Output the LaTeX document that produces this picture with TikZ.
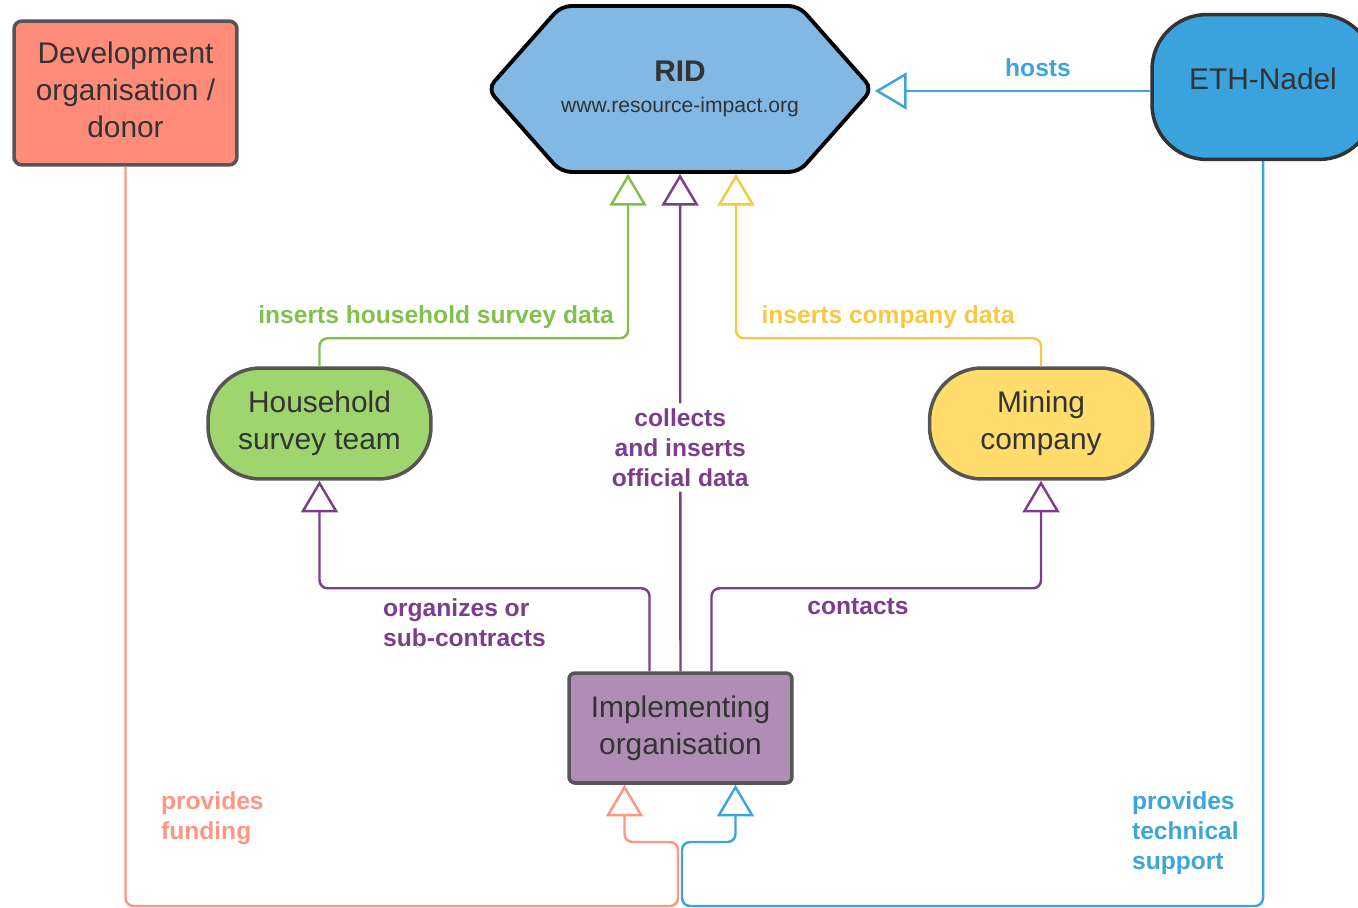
\documentclass[tikz,border=0pt]{standalone}
\usepackage{fontspec}
\setmainfont{Liberation Sans}
\usetikzlibrary{arrows.meta,positioning,calc,shapes.symbols}

\definecolor{donorfill}{HTML}{FF8C7A}
\definecolor{donorline}{HTML}{FF9682}
\definecolor{ridfill}{HTML}{82B8E4}
\definecolor{ethfill}{HTML}{3AA3DD}
\definecolor{ethline}{HTML}{3DA5DC}
\definecolor{hhfill}{HTML}{9FD56F}
\definecolor{hhline}{HTML}{80C14E}
\definecolor{minefill}{HTML}{FFDC6B}
\definecolor{mineline}{HTML}{F8C843}
\definecolor{implfill}{HTML}{AF8DB5}
\definecolor{implline}{HTML}{7E3D8C}
\definecolor{boxline}{HTML}{555555}
\definecolor{boxtext}{HTML}{333333}

\tikzset{
  actor/.style={draw=boxline, line width=2pt, text=boxtext, align=center,
    font=\fontsize{17}{21}\selectfont, minimum width=4.46cm, inner sep=2pt},
  link/.style={line width=1.4pt, rounded corners=0.16cm,
    -{Triangle[open, length=18pt, width=21pt, line width=1.4pt]}},
  tag/.style={font=\bfseries\fontsize{14}{17}\selectfont, align=left, inner sep=1pt}
}

\begin{document}
\begin{tikzpicture}[x=0.02cm, y=-0.02cm]
  \useasboundingbox (0,0) rectangle (1358,908);

  % nodes
  \node[actor, fill=donorfill, rounded corners=0.16cm, minimum height=2.88cm, text depth=0.13cm] (donor) at (125.5,93)
    {Development\\organisation /\\donor};
  \node[shape=signal, signal to=east and west, signal pointer angle=97, draw=black,
    line width=2.2pt, rounded corners=0.2cm, fill=ridfill, text=boxtext, align=center,
    minimum width=7.66cm, minimum height=3.32cm, inner sep=0pt] (rid) at (680,89)
    {{\bfseries\fontsize{17}{20}\selectfont RID}\\[6pt]{\fontsize{12}{14}\selectfont www.resource-impact.org}};
  \node[actor, fill=ethfill, draw=boxtext, rounded corners=1.1cm, minimum width=4.44cm,
    minimum height=2.9cm, text depth=0.35cm] (eth) at (1263,87) {ETH-Nadel};
  \node[actor, fill=hhfill, rounded corners=1.05cm, minimum height=2.22cm] (hh) at (319.5,423.5)
    {Household\\survey team};
  \node[actor, fill=minefill, rounded corners=1.05cm, minimum height=2.22cm] (mine) at (1041,423.5)
    {Mining\\company};
  \node[actor, fill=implfill, rounded corners=0.12cm, minimum height=2.2cm] (impl) at (680.5,728)
    {Implementing\\organisation};

  % connectors
  \draw[link, ethline] ([yshift=-0.04cm]rid.east -| eth.west) -- ([yshift=-0.04cm]rid.east);
  \draw[link, hhline] (hh.north) -- ++(0,-28) -| ($(rid.south)+(-52,0)$);
  \draw[link, mineline] (mine.north) -- ++(0,-28) -| ($(rid.south)+(56,0)$);
  \draw[link, implline] (impl.north) -- (rid.south)
    node[tag, pos=0.45, fill=white, align=center, inner sep=3pt] (collect)
    {collects\\and inserts\\official data};
  \draw[link, implline] ($(impl.north)+(-31,0)$) -- ++(0,-83) -| (hh.south);
  \draw[link, implline] ($(impl.north)+(31,0)$) -- ++(0,-83) -| (mine.south);
  \draw[link, donorline] (donor.south) |- (678,906) -- (678,842) -| ($(impl.south)+(-56,0)$);
  \draw[link, ethline] (eth.south) |- (682,906) -- (682,842) -| ($(impl.south)+(55,0)$);

  % labels
  \node[tag, text=ethline] (hosts) at (1038,68) {hosts};
  \node[tag, text=hhline] (hhdata) at (436,317) {inserts household survey data};
  \node[tag, text=mineline] (minedata) at (888,317) {inserts company data};
  \node[tag, text=implline, anchor=west] (organize) at (381,623) {organizes or\\sub-contracts};
  \node[tag, text=implline] (contact) at (858,607) {contacts};
  \node[tag, text=donorline, anchor=west] (funding) at (159,818) {provides\\funding};
  \node[tag, text=ethline, anchor=west] (support) at (1130,833) {provides\\technical\\support};
\end{tikzpicture}
\end{document}
